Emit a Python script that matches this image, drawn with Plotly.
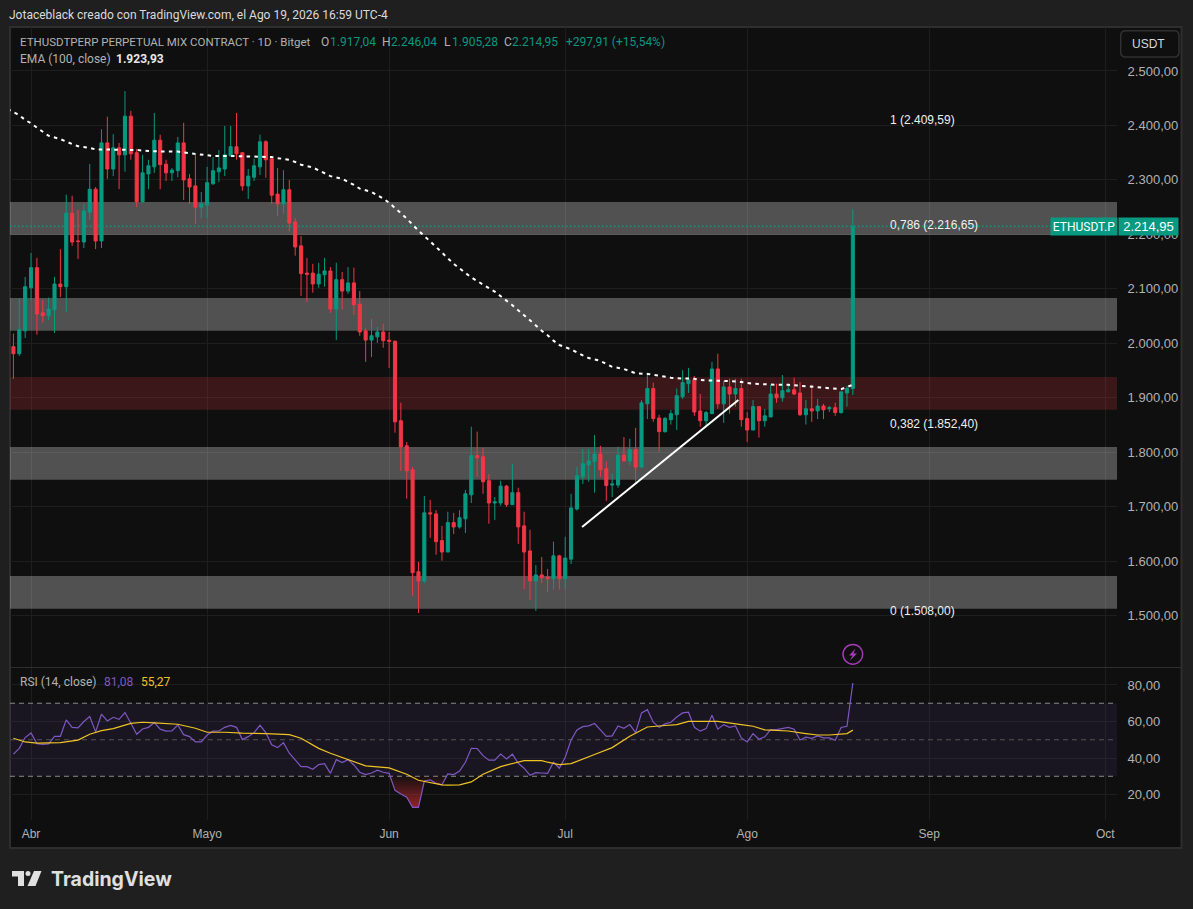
import pandas as pd
import plotly.graph_objects as go

W, H = 1193, 909
TEAL = "#089981"
RED = "#f23645"

dates = pd.date_range("2026-03-29", periods=144)
x_range = ["2026-03-28 10:00", "2026-10-03 00:00"]

opens = [1994,1981,2023,2102,2139,2056,2051,2062,2109,2104,2239,2188,2186,2241,2283,2188,2368,2320,2359,2346,
         2417,2350,2260,2311,2324,2373,2329,2313,2317,2368,2302,2289,2250,2254,2293,2315,2320,2344,2361,2350,
         2289,2305,2324,2370,2339,2274,2256,2282,2223,2179,2129,2129,2109,2126,2133,2063,2117,2096,2111,2072,
         2023,2006,2012,2021,2006,2004,1858,1812,1768,1581,1564,1689,1687,1638,1617,1671,1663,1678,1722,1794,
         1792,1748,1707,1707,1738,1704,1726,1665,1619,1564,1575,1571,1568,1610,1568,1604,1696,1755,1777,1783,
         1797,1770,1740,1740,1795,1784,1805,1773,1889,1917,1863,1838,1860,1869,1902,1926,1933,1876,1858,1871,
         1953,1889,1920,1907,1917,1862,1841,1884,1858,1865,1907,1900,1911,1915,1909,1869,1880,1876,1885,1880,
         1882,1873,1909,1917.04]
highs = [2018,2083,2122,2166,2157,2080,2084,2122,2173,2273,2271,2245,2256,2329,2287,2393,2416,2384,2368,2463,
         2427,2357,2346,2337,2423,2383,2337,2322,2379,2405,2311,2346,2278,2324,2342,2355,2399,2399,2423,2351,
         2320,2339,2383,2373,2340,2322,2318,2300,2230,2197,2157,2146,2148,2157,2140,2148,2131,2140,2139,2096,
         2028,2045,2030,2036,2021,2005,1891,1819,1773,1599,1720,1713,1694,1665,1691,1689,1694,1731,1847,1838,
         1808,1760,1718,1748,1740,1779,1735,1691,1658,1593,1608,1586,1636,1612,1645,1724,1773,1806,1806,1832,
         1812,1783,1761,1810,1828,1825,1845,1896,1946,1928,1869,1865,1878,1917,1951,1955,1940,1907,1876,1966,
         1981,1931,1935,1935,1935,1874,1896,1884,1880,1924,1926,1942,1926,1937,1929,1896,1924,1898,1889,1885,
         1891,1911,1922,2246.04]
lows = [1935,1977,2010,2080,2016,2038,2043,2019,2085,2058,2179,2155,2175,2227,2173,2175,2302,2307,2283,2315,
        2337,2250,2258,2283,2313,2283,2298,2298,2305,2263,2256,2219,2230,2230,2291,2296,2307,2344,2337,2280,
        2265,2298,2309,2304,2256,2234,2238,2205,2161,2087,2076,2093,2102,2104,2056,2006,2062,2091,2052,2014,
        1966,1975,2001,1992,1955,1836,1766,1715,1537,1505,1560,1643,1612,1601,1617,1650,1660,1652,1707,1755,
        1724,1669,1676,1702,1700,1704,1632,1549,1529,1509,1560,1544,1548,1548,1549,1595,1693,1742,1746,1726,
        1755,1711,1718,1735,1784,1777,1746,1772,1861,1856,1801,1836,1851,1841,1898,1909,1867,1847,1849,1871,
        1880,1854,1871,1884,1847,1819,1841,1827,1847,1865,1891,1893,1911,1905,1867,1851,1856,1861,1861,1874,
        1867,1871,1884,1905.28]
closes = [1981,2025,2104,2139,2054,2051,2063,2109,2104,2239,2186,2187,2243,2283,2188,2368,2320,2359,2346,2417,
          2348,2260,2313,2326,2373,2328,2313,2318,2368,2300,2287,2250,2256,2295,2317,2322,2346,2361,2348,2289,
          2307,2326,2370,2337,2272,2256,2282,2221,2177,2128,2127,2109,2127,2133,2063,2117,2096,2111,2071,2021,
          2006,2014,2021,2005,2004,1856,1810,1766,1579,1564,1689,1687,1636,1617,1671,1663,1680,1724,1794,1790,
          1746,1707,1709,1738,1704,1726,1663,1617,1564,1575,1570,1568,1610,1568,1606,1698,1757,1779,1784,1797,
          1768,1739,1742,1795,1784,1805,1773,1891,1917,1862,1838,1862,1871,1904,1928,1933,1874,1858,1873,1953,
          1889,1920,1907,1917,1860,1841,1884,1858,1867,1907,1900,1913,1915,1907,1869,1880,1876,1885,1878,1882,
          1873,1911,1917,2214.95]

# EMA read at some candles only, index counts from the first candle
ema_idx = [-1,1,2,3,4,5,6,8,9,10,11,13,14,16,21,22,23,26,28,30,32,33,34,37,40,41,44,45,47,48,49,51,52,53,54,56,57,58,
           59,61,62,63,64,65,66,67,69,72,75,78,82,85,87,89,90,91,92,93,95,96,97,98,100,101,102,104,105,106,108,109,
           110,112,113,114,116,117,118,121,122,124,125,126,128,129,130,132,133,135,136,137,139,140,141,143]
ema_vals = [2430,2419,2410,2404,2396,2388,2381,2375,2370,2366,2362,2359,2356,2356,2355,2354,2353,2352,2352,2349,2346,2345,
            2344,2344,2343,2342,2342,2340,2337,2333,2328,2323,2318,2313,2307,2302,2297,2291,2284,2278,2272,2266,2258,
            2249,2239,2229,2207,2177,2146,2121,2095,2070,2052,2033,2023,2015,2005,1997,1989,1983,1978,1973,1968,1962,
            1957,1953,1949,1945,1944,1942,1940,1937,1936,1936,1935,1933,1932,1931,1931,1929,1927.5,1926,1925,1924,1924,
            1924,1923,1922,1920,1920,1918,1917,1916,1923.93]

rsi = [42.1,45.3,51.2,53.7,47.9,47.5,47.7,51.9,51.9,60.9,56.8,56.5,60,62.7,54.3,64,60.3,62.3,61.2,64.9,
       59,53,55.9,56.8,59.4,55.8,54.7,54.8,58.1,52.8,51.7,48.8,48.8,52.6,54.7,54.8,56.8,57.9,56.8,50.1,
       51.7,53.9,57.9,53.9,47.2,45.7,48.4,42.6,39,35.3,35.3,33.8,36.4,36.9,31.6,39.1,37.5,39.1,36.2,32.2,
       30.9,31.8,33.3,32.2,31.6,22.3,20.3,18.5,13,13,27.4,28,26.2,25.3,31.3,30.9,32.9,37.7,45.3,45.2,
       41.3,38.8,38.8,42.2,39.5,42.1,37.1,34.4,30.5,32,31.8,31.6,37.7,34.4,40.4,49.9,55.4,57.2,57.6,58.9,
       55.4,51.9,52.1,57.6,56.3,58.3,53.9,64.7,66.5,59.6,56.8,58.7,59.6,62.5,64.7,65.1,56.8,54.7,56.1,63.4,
       55.8,58.3,56.8,57.6,51,48.8,53.4,50.3,51.6,55.6,55.6,56.3,56.8,55.8,49.9,51.4,50.8,52.1,51,51,
       49.7,56.7,57.4,81.08]

rsi_ma_idx = [0,2,4,6,8,11,13,15,17,20,22,24,28,31,33,36,39,43,47,49,52,54,57,60,64,67,69,72,73,74,76,78,80,83,86,87,
              90,91,93,95,99,102,105,106,108,111,113,115,120,124,126,128,132,135,137,139,142,143]
rsi_ma = [50.8,48.8,48.1,48.2,48.4,49.8,53,55,56.1,59,59.6,59.2,58.5,56.3,54.1,54.1,53.6,53.4,52.8,50.8,45.3,42.6,39,
          35.7,34.6,31.1,27.8,26.2,25.3,25.2,25.3,26.9,31.1,35.3,37.9,38.6,38.6,37.7,36.4,36.9,41.9,45.7,51.9,53.6,
          57,57.8,58.3,60.1,60.1,58.3,57.4,55.4,54.8,53.4,52.6,52.6,53.4,55.27]

gray_zones = [(2199, 2259.6), (2023, 2083.5), (1749.5, 1810), (1512.7, 1573)]
red_zone = (1878, 1938.5)

fib_labels = ["1 (2.409,59)", "0,786 (2.216,65)", "0,382 (1.852,40)", "0 (1.508,00)"]
fib_prices = [2409.59, 2216.65, 1852.40, 1508.00]

price_ticks = [1500,1600,1700,1800,1900,2000,2100,2200,2300,2400,2500]
price_text = ["1.500,00","1.600,00","1.700,00","1.800,00","1.900,00","2.000,00","2.100,00","2.200,00","2.300,00","2.400,00","2.500,00"]
rsi_ticks = [20,40,60,80]
rsi_text = ["20,00","40,00","60,00","80,00"]
month_ticks = ["2026-04-01","2026-05-01","2026-06-01","2026-07-01","2026-08-01","2026-09-01","2026-10-01"]
month_text = ["Abr","Mayo","Jun","Jul","Ago","Sep","Oct"]

trend_x = ["2026-07-03 21:00","2026-07-30 12:00"]
trend_y = [1663,1896]


def px(x):
    return x / W


def py(y):
    return 1 - y / H


fig = go.Figure()

fig.add_trace(go.Candlestick(x=dates, open=opens, high=highs, low=lows, close=closes,
                             increasing=dict(line=dict(color=TEAL, width=1), fillcolor=TEAL),
                             decreasing=dict(line=dict(color=RED, width=1), fillcolor=RED),
                             whiskerwidth=0, hoverinfo="skip", showlegend=False, xaxis="x", yaxis="y"))

ema_x = [dates[0] + pd.Timedelta(days=i) for i in ema_idx]
fig.add_trace(go.Scatter(x=ema_x, y=ema_vals, mode="lines", line=dict(color="white", width=2, dash="3.5px,4.3px"),
                         hoverinfo="skip", showlegend=False, xaxis="x", yaxis="y"))
fig.add_trace(go.Scatter(x=trend_x, y=trend_y, mode="lines", line=dict(color="white", width=2),
                         hoverinfo="skip", showlegend=False, xaxis="x", yaxis="y"))

# oversold fill under the 30 line
over_x = dates[64:76]
fig.add_trace(go.Scatter(x=over_x, y=[30] * len(over_x), mode="lines", line=dict(width=0),
                         hoverinfo="skip", showlegend=False, xaxis="x", yaxis="y2"))
fig.add_trace(go.Scatter(x=over_x, y=[min(r, 30) for r in rsi[64:76]], mode="lines", line=dict(width=0),
                         fill="tonexty",
                         fillgradient=dict(type="vertical",
                                           colorscale=[[0, "rgba(180,40,45,0.8)"], [1, "rgba(180,40,45,0.05)"]]),
                         hoverinfo="skip", showlegend=False, xaxis="x", yaxis="y2"))
fig.add_trace(go.Scatter(x=dates, y=rsi, mode="lines", line=dict(color="#7e57c2", width=1.2),
                         hoverinfo="skip", showlegend=False, xaxis="x", yaxis="y2"))
ma_x = [dates[i] for i in rsi_ma_idx]
fig.add_trace(go.Scatter(x=ma_x, y=rsi_ma, mode="lines", line=dict(color="#f0c325", width=1.2),
                         hoverinfo="skip", showlegend=False, xaxis="x", yaxis="y2"))

shapes = []
# panel and separators
shapes.append(dict(type="rect", xref="paper", yref="paper", x0=px(10), x1=px(1181.5), y0=py(848), y1=py(27),
                   fillcolor="#0f0f0f", line=dict(color="#2e2e2e", width=2), layer="below"))
shapes.append(dict(type="line", xref="paper", yref="paper", x0=px(10), x1=px(1181), y0=py(667.5), y1=py(667.5),
                   line=dict(color="#2e2e2e", width=1)))
for lo, hi in gray_zones:
    shapes.append(dict(type="rect", xref="x", yref="y", x0=x_range[0], x1=x_range[1], y0=lo, y1=hi,
                       fillcolor="rgba(255,255,255,0.28)", line=dict(width=0), layer="between"))
shapes.append(dict(type="rect", xref="x", yref="y", x0=x_range[0], x1=x_range[1], y0=red_zone[0], y1=red_zone[1],
                   fillcolor="rgba(242,54,69,0.2)", line=dict(width=0), layer="between"))
shapes.append(dict(type="line", xref="x", yref="y", x0=x_range[0], x1=x_range[1], y0=closes[-1], y1=closes[-1],
                   line=dict(color=TEAL, width=1.5, dash="1.5px,2.5px"), layer="between"))
shapes.append(dict(type="rect", xref="x", yref="y2", x0=x_range[0], x1=x_range[1], y0=30, y1=70,
                   fillcolor="rgba(126,87,194,0.1)", line=dict(width=0), layer="between"))
for level, col in [(70, "#8a8a8a"), (50, "#555555"), (30, "#8a8a8a")]:
    shapes.append(dict(type="line", xref="x", yref="y2", x0=x_range[0], x1=x_range[1], y0=level, y1=level,
                       line=dict(color=col, width=1, dash="5px,4px"), layer="between"))

# USDT button
bx0, bx1, by0, by1, r = px(1120.7), px(1179), py(30.7), py(57), 5
rx, ry = r / W, r / H
shapes.append(dict(type="path", xref="paper", yref="paper",
                   path=f"M {bx0+rx} {by0} L {bx1-rx} {by0} Q {bx1} {by0} {bx1} {by0-ry} L {bx1} {by1+ry} "
                        f"Q {bx1} {by1} {bx1-rx} {by1} L {bx0+rx} {by1} Q {bx0} {by1} {bx0} {by1+ry} "
                        f"L {bx0} {by0-ry} Q {bx0} {by0} {bx0+rx} {by0} Z",
                   line=dict(color="#303030", width=1.5)))


def poly(points):
    return "M " + " L ".join(f"{px(x)} {py(y)}" for x, y in points) + " Z"


# flash icon
shapes.append(dict(type="circle", xref="paper", yref="paper", x0=px(843), x1=px(862.7), y0=py(664.2), y1=py(644.4),
                   line=dict(color="#a63ab8", width=1.5)))
shapes.append(dict(type="path", xref="paper", yref="paper", fillcolor="#a63ab8", line=dict(width=0),
                   path=poly([(855.5, 648.5), (849, 655.5), (852.5, 655.5), (850, 660.5), (857, 653.5), (853.5, 653.5)])))

# TradingView logo
logo = "#e0e0e0"
shapes.append(dict(type="path", xref="paper", yref="paper", fillcolor=logo, line=dict(width=0),
                   path=poly([(12, 871), (24, 871), (24, 886), (18, 886), (18, 876.5), (12, 876.5)])))
shapes.append(dict(type="circle", xref="paper", yref="paper", x0=px(25.5), x1=px(30.5), y0=py(876), y1=py(871),
                   fillcolor=logo, line=dict(width=0)))
shapes.append(dict(type="path", xref="paper", yref="paper", fillcolor=logo, line=dict(width=0),
                   path=poly([(34, 871), (41.5, 871), (35.5, 886), (27.5, 886)])))

FONT = "Liberation Sans"
TEXT = "Roboto"


def label(x, y, text, color="#b2b2b2", size=12, family=TEXT, **kw):
    return dict(xref="paper", yref="paper", x=px(x), y=py(y), text=text, showarrow=False, xanchor="left",
                yanchor="middle", font=dict(family=family, size=size, color=color), **kw)


anns = [
    label(7, 15, "Jotaceblack creado con TradingView.com, el Ago 19, 2026 16:59 UTC-4", "#dbdbdb"),
    label(18, 42, "ETHUSDTPERP PERPETUAL MIX CONTRACT · 1D · Bitget", size=11.5),
    label(319, 42, "O"), label(328, 42, "1.917,04", TEAL),
    label(380, 42, "H"), label(389, 42, "2.246,04", TEAL),
    label(442, 42, "L"), label(450, 42, "1.905,28", TEAL),
    label(502, 42, "C"), label(510, 42, "2.214,95", TEAL),
    label(564, 42, "+297,91 (+15,54%)", TEAL),
    label(18, 59, "EMA (100, close)"),
    label(114, 59, "<b>1.923,93</b>", "#e8e8e8"),
    label(18, 682, "RSI (14, close)"),
    label(102, 682, "81,08", "#7e57c2"),
    label(139, 682, "55,27", "#f0c325"),
    label(1130, 44.5, "USDT", "#d8d8d8", 12, FONT),
    label(49, 879, "<b>TradingView</b>", "#e0e0e0", 19.5, "Inter"),
]
for text, price in zip(fib_labels, fib_prices):
    anns.append(dict(xref="x", yref="y", x="2026-08-25 00:00", y=price, text=text, showarrow=False, xanchor="left",
                     yanchor="middle", font=dict(family=FONT, size=12, color="#f0f0f0")))
anns.append(dict(xref="paper", yref="y", x=px(1050), y=closes[-1], text="ETHUSDT.P", showarrow=False, xanchor="left",
                 yanchor="middle", width=64, height=15, bgcolor=TEAL, font=dict(family=TEXT, size=12, color="white")))
anns.append(dict(xref="paper", yref="y", x=px(1118), y=closes[-1], text="2.214,95", showarrow=False, xanchor="left",
                 yanchor="middle", width=57, height=15, bgcolor=TEAL, font=dict(family=FONT, size=13, color="white")))

grid = "#1e1e1e"
fig.update_layout(
    width=W, height=H,
    margin=dict(l=0, r=0, t=0, b=0),
    paper_bgcolor="#1f1f1f",
    plot_bgcolor="rgba(0,0,0,0)",
    showlegend=False,
    boxgap=0.25,
    shapes=shapes,
    annotations=anns,
    xaxis=dict(domain=[px(10), px(1117)], anchor="y2", type="date",
               range=x_range,
               tickmode="array", tickvals=month_ticks, ticktext=month_text,
               showgrid=True, gridcolor=grid, gridwidth=1, zeroline=False, showline=False,
               ticks="outside", ticklen=3, tickcolor="rgba(0,0,0,0)",
               tickfont=dict(family=FONT, size=12, color="#b2b2b2"),
               rangeslider=dict(visible=False)),
    yaxis=dict(domain=[py(667), py(27)], anchor="x", side="right", range=[1406, 2580.7],
               tickmode="array", tickvals=price_ticks, ticktext=price_text,
               showgrid=True, gridcolor=grid, zeroline=False, showline=False,
               ticks="outside", ticklen=7, tickcolor="rgba(0,0,0,0)",
               tickfont=dict(family=FONT, size=13, color="#b2b2b2")),
    yaxis2=dict(domain=[py(820), py(668)], anchor="x", side="right", range=[6.05, 89.3],
                tickmode="array", tickvals=rsi_ticks, ticktext=rsi_text,
                showgrid=True, gridcolor=grid, zeroline=False, showline=False,
                ticks="outside", ticklen=7, tickcolor="rgba(0,0,0,0)",
                tickfont=dict(family=FONT, size=13, color="#b2b2b2")),
)

fig.write_html("out.html", config=dict(displayModeBar=False), post_script="document.body.style.margin='0';")
